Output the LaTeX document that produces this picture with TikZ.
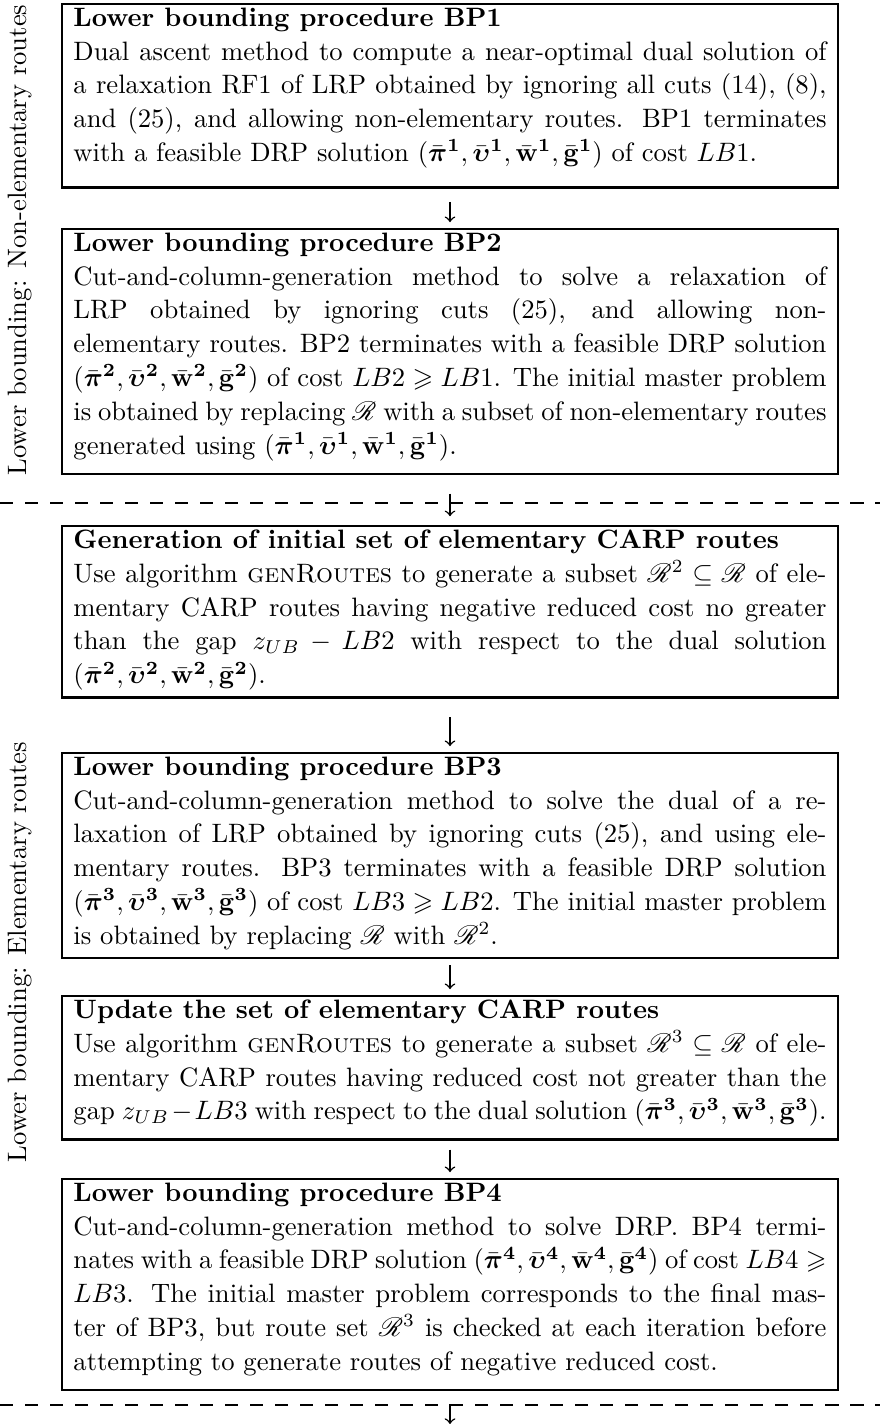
\documentclass[tikz,border=0pt]{standalone}
\usepackage{amsmath, amssymb}
\usepackage{mathrsfs}
\usetikzlibrary{positioning}
\newcommand\Sol[1]{(\bar{\boldsymbol{\pi}}^{\mathbf{#1}}, \bar{\boldsymbol{\upsilon}}^{\mathbf{#1}}, \bar{\mathbf{w}}^{\mathbf{#1}}, \bar{\mathbf{g}}^{\mathbf{#1}})}
\newcommand\Rset{\mathscr{R}}
\newcommand\Hd[1]{\textbf{#1}\\}
\newcommand\Taildp{6pt}
\tikzset{
  taildp/.store in=\Taildp,
  stepbox/.style={draw, anchor=north, line width=0.9pt, text width=283pt, inner xsep=4.3pt, inner ysep=1.4pt,
    align=justify, font=\fontsize{10}{12.7}\selectfont, taildp=6pt,
    execute at end node={\rule[-\Taildp]{0pt}{\Taildp}}},
  flow/.style={->, line width=0.55pt, shorten <=#1, shorten >=2.2pt},
  sepline/.style={dash pattern=on 4.9pt off 4.5pt, line width=0.4pt},
  side/.style={rotate=90, font=\fontsize{10}{12}\selectfont}
}
\begin{document}
\begin{tikzpicture}[x=0.3758pt, y=-0.3758pt]
  \useasboundingbox (0,0) rectangle (880,1424);
  % upper part: non-elementary routes
  \node[stepbox, taildp=8.3pt] (bp1) at (450,3) {\Hd{Lower bounding procedure BP1}
    Dual ascent method to compute a near-optimal dual solution of a relaxation RF1 of LRP obtained by ignoring all cuts (14), (8), and (25), and allowing non-elementary routes. BP1 terminates with a feasible DRP solution $\Sol{1}$ of cost $LB1$.};
  \node[stepbox] (bp2) at (450,228) {\Hd{Lower bounding procedure BP2}
    Cut-and-column-generation method to solve a relaxation of LRP obtained by ignoring cuts (25), and allowing non-elementary routes. BP2 terminates with a feasible DRP solution $\Sol{2}$ of cost $LB2 \geqslant LB1$. The initial master problem\linebreak is obtained by replacing $\Rset$ with a subset of non-elementary routes generated using $\Sol{1}$.};
  % lower part: elementary routes
  \node[stepbox, taildp=3.7pt] (gen) at (450,525) {\Hd{Generation of initial set of elementary CARP routes}
    Use algorithm \textsc{genRoutes} to generate a subset $\Rset^2 \subseteq \Rset$ of elementary CARP routes having negative reduced cost no greater than the gap $z_{UB} - LB2$ with respect to the dual solution $\Sol{2}$.};
  \node[stepbox, taildp=3.7pt] (bp3) at (450,752) {\Hd{Lower bounding procedure BP3}
    Cut-and-column-generation method to solve the dual of a relaxation of LRP obtained by ignoring cuts (25), and using elementary routes. BP3 terminates with a feasible DRP solution $\Sol{3}$ of cost $LB3 \geqslant LB2$. The initial master problem is obtained by replacing $\Rset$ with $\Rset^2$.};
  \node[stepbox] (upd) at (450,995) {\Hd{Update the set of elementary CARP routes}
    Use algorithm \textsc{genRoutes} to generate a subset $\Rset^3 \subseteq \Rset$ of elementary CARP routes having reduced cost not greater than the gap $z_{UB} - LB3$ with respect to the dual solution $\Sol{3}$.};
  \node[stepbox] (bp4) at (450,1178) {\Hd{Lower bounding procedure BP4}
    Cut-and-column-generation method to solve DRP. BP4 terminates with a feasible DRP solution $\Sol{4}$ of cost $LB4 \geqslant LB3$. The initial master problem corresponds to the final master of BP3, but route set $\Rset^3$ is checked at each iteration before attempting to generate routes of negative reduced cost.};
  \coordinate (out) at (450,1424);
  % separators and side labels
  \draw[sepline] (0,503) -- (880,503);
  \draw[sepline] (0,1405) -- (880,1405);
  \node[side] (lbne) at (20,240) {Lower bounding: Non-elementary routes};
  \node[side] (lbel) at (20,952) {Lower bounding: Elementary routes};
  % arrows
  \draw[flow=5pt] (bp1) -- (bp2);
  \draw[flow=7pt, shorten >=3.3pt] (bp2) -- (gen);
  \draw[flow=7pt] (gen) -- (bp3);
  \draw[flow=2.2pt] (bp3) -- (upd);
  \draw[flow=3.3pt] (upd) -- (bp4);
  \draw[flow=4.8pt, shorten >=0pt] (bp4) -- (out);
\end{tikzpicture}
\end{document}
